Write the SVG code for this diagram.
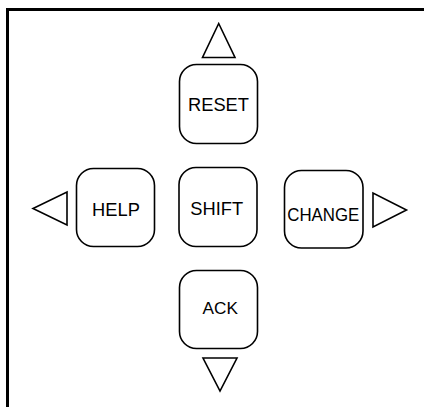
<svg xmlns="http://www.w3.org/2000/svg" width="424" height="407" viewBox="0 0 424 407">
<style>
.key{fill:#fff;stroke:#000;stroke-width:1.6}
.arr{fill:#fff;stroke:#000;stroke-width:1.6;stroke-linejoin:miter}
.lbl{font-family:"Liberation Sans",Arial,sans-serif;font-size:18.3px;fill:#000;text-anchor:middle}
</style>
<rect x="0" y="0" width="424" height="407" fill="#fff"/>
<rect x="7.5" y="9.5" width="440" height="420" fill="none" stroke="#000" stroke-width="3"/>
<g id="connectors">
<polygon id="arrow-up" class="arr" points="202.5,57.5 235,57.5 218.7,23.5"/>
<polygon id="arrow-down" class="arr" points="203,358 237,358 220,391"/>
<polygon id="arrow-left" class="arr" points="67,192 67,225 33,208.5"/>
<polygon id="arrow-right" class="arr" points="373,193 373,227 406.5,210"/>
</g>
<g id="reset">
<rect class="key" x="179.5" y="64.5" width="78" height="79" rx="17"/>
<text class="lbl" x="218.5" y="110.7">RESET</text>
</g>
<g id="help">
<rect class="key" x="76.5" y="168.5" width="78" height="78" rx="17"/>
<text class="lbl" x="116" y="215.7">HELP</text>
</g>
<g id="shift">
<rect class="key" x="179" y="167.5" width="78" height="79" rx="17"/>
<text class="lbl" x="216.7" y="215.3">SHIFT</text>
</g>
<g id="change">
<rect class="key" x="284.5" y="170.5" width="78.5" height="77.5" rx="17"/>
<text class="lbl" x="323.3" y="221" textLength="72" lengthAdjust="spacingAndGlyphs">CHANGE</text>
</g>
<g id="ack">
<rect class="key" x="179.5" y="270.5" width="78" height="78" rx="17"/>
<text class="lbl" x="220.2" y="314.3" style="font-size:17.2px">ACK</text>
</g>
</svg>
